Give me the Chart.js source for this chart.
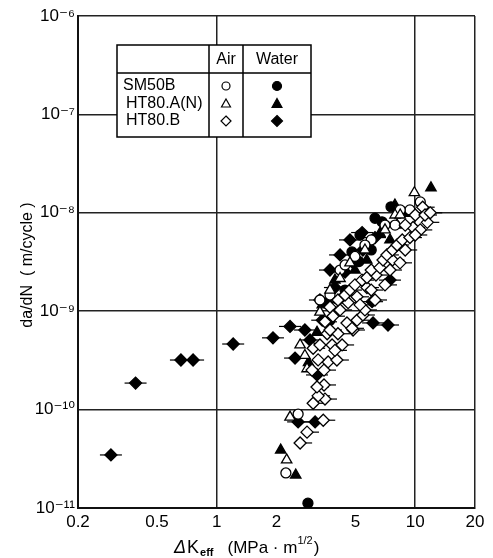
<!DOCTYPE html>
<html>
<head>
<meta charset="utf-8">
<script src="https://cdn.jsdelivr.net/npm/chart.js@4/dist/chart.umd.min.js"></script>
<style>
  html, body { margin: 0; padding: 0; background: #fff; }
  #wrap { width: 493px; height: 558px; }
</style>
</head>
<body>
<div id="wrap"><canvas id="fig"></canvas></div>
<script>
// tick values
var kTicks = [0.2, 0.5, 1, 2, 5, 10, 20];
var rateTicks = [1e-11, 1e-10, 1e-9, 1e-8, 1e-7, 1e-6];
var rateLabels = ["10\u207B\u00B9\u00B9", "10\u207B\u00B9\u2070", "10\u207B\u2079", "10\u207B\u2078", "10\u207B\u2077", "10\u207B\u2076"];

// SM50B  (circles)
var sm50bAirK    = [2.23, 2.57, 4.18, 4.97, 6.0, 7.91, 9.4, 10.6, 3.72, 3.31, 4.43, 5.58, 7.04, 8.4];
var sm50bAirRate = [2.27e-11, 9.0e-11, 2.62e-9, 3.6e-9, 5.3e-9, 7.5e-9, 1.07e-8, 1.29e-8, 1.46e-9, 1.3e-9, 2.95e-9, 4.7e-9, 7.5e-9, 1.07e-8];
var sm50bWaterK    = [2.88, 7.55, 6.8, 6.0, 5.2, 4.43, 3.72, 5.27, 4.8, 6.27];
var sm50bWaterRate = [1.12e-11, 1.15e-8, 8.1e-9, 4.19e-9, 3.2e-9, 1.64e-9, 8.1e-10, 5.95e-9, 4.0e-9, 8.8e-9];

// HT80.A(N)  (triangles)
var ht80aAirK    = [2.25, 2.34, 2.85, 3.31, 4.18, 5.58, 7.91, 9.9, 2.78, 2.63, 3.72, 4.69, 7.04, 8.4];
var ht80aAirRate = [3.08e-11, 8.4e-11, 2.6e-10, 9.8e-10, 2.15e-9, 4.19e-9, 9.5e-9, 1.6e-8, 3.55e-10, 4.54e-10, 1.64e-9, 3.1e-9, 6.7e-9, 9.5e-9];
var ht80aWaterK    = [2.1, 2.5, 12.0, 8.8, 8.1, 5.7, 6.64, 2.9, 3.2, 4.97, 4.18, 3.94, 3.4, 7.46, 7.9];
var ht80aWaterRate = [3.88e-11, 2.16e-11, 1.79e-8, 9.9e-9, 7.5e-9, 3.31e-9, 6.2e-9, 3.0e-10, 6.1e-10, 2.62e-9, 1.3e-9, 2.07e-9, 1.16e-9, 5.3e-9, 1.2e-8];

// HT80.B  (diamonds)
var ht80bAirK = [2.63, 2.85, 3.44, 3.06, 3.51, 3.24, 3.47, 3.20, 3.02, 3.47, 3.64, 4.03,
  3.06, 3.31, 3.81, 4.28, 3.60, 4.08, 4.86, 4.53, 5.09, 5.45, 3.51, 3.72, 4.80,
  3.72, 4.18, 3.85, 4.08, 4.59, 4.43, 5.09, 4.69, 5.71, 4.97, 5.39, 5.71, 6.34,
  6.0, 6.64, 6.88, 7.68, 7.20, 7.68, 8.1, 8.6, 9.4, 9.75, 10.6, 11.5, 10.9, 10.0, 8.9,
  8.9, 8.38, 7.04, 6.27, 5.58, 5.27, 6.0, 7.46, 10.0, 11.2, 11.9, 3.24, 3.94];
var ht80bAirRate = [4.58e-11, 5.9e-11, 7.8e-11, 1.16e-10, 1.28e-10, 1.38e-10, 1.78e-10, 1.70e-10, 2.52e-10, 2.52e-10, 3.05e-10, 3.19e-10,
  4.2e-10, 4.54e-10, 4.54e-10, 4.54e-10, 5.9e-10, 5.9e-10, 6.44e-10, 7.6e-10, 8.1e-10, 9.15e-10, 7.8e-10, 6.44e-10, 6.7e-10,
  1.1e-9, 1.03e-9, 8.9e-10, 1.30e-9, 1.22e-9, 1.46e-9, 1.40e-9, 1.64e-9, 1.74e-9, 1.85e-9, 2.07e-9, 2.2e-9, 2.33e-9,
  2.62e-9, 2.77e-9, 3.31e-9, 3.31e-9, 3.73e-9, 4.19e-9, 4.71e-9, 5.3e-9, 5.6e-9, 7.1e-9, 6.7e-9, 8.0e-9, 1.14e-8, 9.5e-9, 7.5e-9,
  4.19e-9, 3.1e-9, 1.85e-9, 1.3e-9, 1.03e-9, 1.16e-9, 1.64e-9, 2.62e-9, 5.95e-9, 9.5e-9, 1.0e-8, 3.2e-10, 4.0e-10];
var ht80bWaterK = [0.293, 0.39, 0.66, 0.76, 1.21, 1.92, 2.34, 2.48, 6.13, 7.29,
  4.86, 3.94, 3.60, 6.06, 7.46, 3.20, 3.13, 2.57, 5.45, 6.27, 4.43, 3.4, 2.95,
  3.72, 4.18, 3.31, 2.78, 4.69, 5.4];
var ht80bWaterRate = [3.46e-11, 1.86e-10, 3.19e-10, 3.19e-10, 4.64e-10, 5.36e-10, 7.0e-10, 3.34e-10, 7.6e-10, 7.24e-10,
  3.1e-9, 1.74e-9, 1.22e-9, 1.25e-9, 2.07e-9, 2.25e-10, 7.5e-11, 7.5e-11, 4.19e-9, 5.6e-9, 2.5e-9, 8.1e-10, 5.1e-10,
  2.62e-9, 3.73e-9, 1.3e-9, 6.44e-10, 5.3e-9, 6.3e-9];

var legendRows = ["SM50B", "HT80.A(N)", "HT80.B"];
var legendCols = ["Air", "Water"];
var legendMarks = ["circle", "triangle", "rectRot"];

var FONT = "'Liberation Sans', 'DejaVu Sans', sans-serif";

function pairs(xs, ys) {
  var out = [];
  for (var i = 0; i < xs.length; i++) {
    out.push({ x: xs[i], y: ys[i] });
  }
  return out;
}

function makeSet(label, xs, ys, style, filled, radius) {
  return {
    label: label,
    data: pairs(xs, ys),
    pointStyle: style,
    pointRadius: radius,
    pointBorderWidth: 1.3,
    pointBorderColor: "#000",
    pointBackgroundColor: filled ? "#000" : "#fff",
    showLine: false
  };
}

function drawMark(ctx, style, x, y, r, filled) {
  ctx.beginPath();
  if (style == "circle") {
    ctx.arc(x, y, r, 0, Math.PI * 2);
  } else if (style == "triangle") {
    ctx.moveTo(x, y - r);
    ctx.lineTo(x + r * 0.9, y + r * 0.6);
    ctx.lineTo(x - r * 0.9, y + r * 0.6);
    ctx.closePath();
  } else {
    ctx.moveTo(x, y - r);
    ctx.lineTo(x + r, y);
    ctx.lineTo(x, y + r);
    ctx.lineTo(x - r, y);
    ctx.closePath();
  }
  ctx.fillStyle = filled ? "#000" : "#fff";
  ctx.fill();
  ctx.lineWidth = 1.2;
  ctx.strokeStyle = "#000";
  ctx.stroke();
}

// short horizontal scatter lines behind the diamond marks
var whiskers = {
  id: "whiskers",
  beforeDatasetsDraw: function (chart) {
    var ctx = chart.ctx;
    ctx.save();
    ctx.strokeStyle = "#000";
    ctx.lineWidth = 1.2;
    chart.data.datasets.forEach(function (ds, i) {
      if (ds.pointStyle != "rectRot") return;
      var meta = chart.getDatasetMeta(i);
      meta.data.forEach(function (p) {
        ctx.beginPath();
        if (ds.pointBackgroundColor == "#000") {
          ctx.moveTo(p.x - 11, p.y);
          ctx.lineTo(p.x + 11, p.y);
        } else {
          ctx.moveTo(p.x + 5, p.y);
          ctx.lineTo(p.x + 12, p.y);
        }
        ctx.stroke();
      });
    });
    ctx.restore();
  }
};

var legendTable = {
  id: "legendTable",
  afterDraw: function (chart) {
    var ctx = chart.ctx;
    var left = 117, top = 45, right = 311, bottom = 137;
    var col1 = 209, col2 = 243, head = 73;
    var rowY = [86, 104, 121];
    ctx.save();
    ctx.fillStyle = "#fff";
    ctx.fillRect(left, top, right - left, bottom - top);
    ctx.strokeStyle = "#000";
    ctx.lineWidth = 1.5;
    ctx.strokeRect(left, top, right - left, bottom - top);
    ctx.beginPath();
    ctx.moveTo(left, head); ctx.lineTo(right, head);
    ctx.moveTo(col1, top); ctx.lineTo(col1, bottom);
    ctx.moveTo(col2, top); ctx.lineTo(col2, bottom);
    ctx.stroke();

    ctx.fillStyle = "#000";
    ctx.font = "16px " + FONT;
    ctx.textBaseline = "middle";
    ctx.textAlign = "center";
    ctx.fillText(legendCols[0], (col1 + col2) / 2, 60);
    ctx.fillText(legendCols[1], (col2 + right) / 2, 60);
    ctx.textAlign = "left";
    for (var i = 0; i < legendRows.length; i++) {
      ctx.save();
      ctx.beginPath();
      ctx.rect(left, head, col1 - left - 1, bottom - head);
      ctx.clip();
      ctx.fillStyle = "#000";
      ctx.fillText(legendRows[i], left + 6 + (i > 0 ? 3 : 0), rowY[i]);
      ctx.restore();
      drawMark(ctx, legendMarks[i], (col1 + col2) / 2, rowY[i], i == 0 ? 4 : 5, false);
      drawMark(ctx, legendMarks[i], (col2 + right) / 2, rowY[i], i == 0 ? 4.5 : 5.5, true);
    }
    ctx.restore();
  }
};

var axisTitles = {
  id: "axisTitles",
  afterDraw: function (chart) {
    var ctx = chart.ctx;
    ctx.save();
    ctx.fillStyle = "#000";
    ctx.textBaseline = "alphabetic";
    ctx.textAlign = "left";
    // x title
    var x = 174, base = 553;
    ctx.font = "italic 18px " + FONT;
    ctx.fillText("\u0394", x, base);
    x += ctx.measureText("\u0394").width + 1;
    ctx.font = "18px " + FONT;
    ctx.fillText("K", x, base);
    x += ctx.measureText("K").width + 1;
    ctx.font = "bold 11px " + FONT;
    ctx.fillText("eff", x, base + 3);
    x += ctx.measureText("eff").width + 14;
    ctx.font = "17px " + FONT;
    ctx.fillText("(MPa \u00B7 m", x, base);
    x += ctx.measureText("(MPa \u00B7 m").width;
    ctx.font = "11px " + FONT;
    ctx.fillText("1/2", x, base - 9);
    x += ctx.measureText("1/2").width + 1;
    ctx.font = "17px " + FONT;
    ctx.fillText(")", x, base);
    // y title
    ctx.translate(28, 265);
    ctx.rotate(-Math.PI / 2);
    ctx.textAlign = "center";
    ctx.textBaseline = "middle";
    ctx.font = "16px " + FONT;
    ctx.fillText("da/dN  ( m/cycle )", 0, 0);
    ctx.restore();
  }
};

function isMajor(v, list) {
  for (var i = 0; i < list.length; i++) {
    if (Math.abs(v - list[i]) < list[i] * 1e-6) return true;
  }
  return false;
}

window.onload = function () {
  var datasets = [
    makeSet("HT80.B Air", ht80bAirK, ht80bAirRate, "rectRot", false, 6),
    makeSet("HT80.A(N) Air", ht80aAirK, ht80aAirRate, "triangle", false, 6),
    makeSet("SM50B Air", sm50bAirK, sm50bAirRate, "circle", false, 5),
    makeSet("HT80.B Water", ht80bWaterK, ht80bWaterRate, "rectRot", true, 6),
    makeSet("HT80.A(N) Water", ht80aWaterK, ht80aWaterRate, "triangle", true, 6),
    makeSet("SM50B Water", sm50bWaterK, sm50bWaterRate, "circle", true, 5)
  ];

  new Chart(document.getElementById("fig"), {
    type: "scatter",
    data: { datasets: datasets },
    options: {
      responsive: true,
      maintainAspectRatio: false,
      animation: false,
      layout: { padding: { left: 0, right: 18, top: 16, bottom: 0 } },
      plugins: { legend: { display: false }, tooltip: { enabled: false } },
      scales: {
        x: {
          type: "logarithmic",
          min: 0.2,
          max: 20,
          afterBuildTicks: function (scale) {
            scale.ticks = kTicks.map(function (v) { return { value: v }; });
          },
          afterFit: function (scale) { scale.height = 50; },
          ticks: {
            autoSkip: false,
            maxRotation: 0,
            padding: 4,
            color: "#000",
            font: { family: FONT, size: 17 },
            callback: function (v) { return String(v); }
          },
          grid: {
            drawTicks: false,
            lineWidth: 1.5,
            color: function (c) {
              var v = c.tick ? c.tick.value : null;
              return (v == 1 || v == 10 || v == 20 || v == 0.2) ? "#222" : "rgba(0,0,0,0)";
            }
          },
          border: { color: "#111", width: 2 }
        },
        y: {
          type: "logarithmic",
          min: 1e-11,
          max: 1e-6,
          afterBuildTicks: function (scale) {
            scale.ticks = rateTicks.map(function (v) { return { value: v }; });
          },
          afterFit: function (scale) { scale.width = 78; },
          ticks: {
            autoSkip: false,
            padding: 3,
            color: "#000",
            font: { family: FONT, size: 17 },
            callback: function (v) {
              for (var i = 0; i < rateTicks.length; i++) {
                if (isMajor(v, [rateTicks[i]])) return rateLabels[i];
              }
              return "";
            }
          },
          grid: {
            drawTicks: false,
            lineWidth: 1.5,
            color: function (c) {
              var v = c.tick ? c.tick.value : null;
              return (v != null && isMajor(v, rateTicks)) ? "#222" : "rgba(0,0,0,0)";
            }
          },
          border: { color: "#111", width: 2 }
        }
      }
    },
    plugins: [whiskers, legendTable, axisTitles]
  });
};
</script>
</body>
</html>
